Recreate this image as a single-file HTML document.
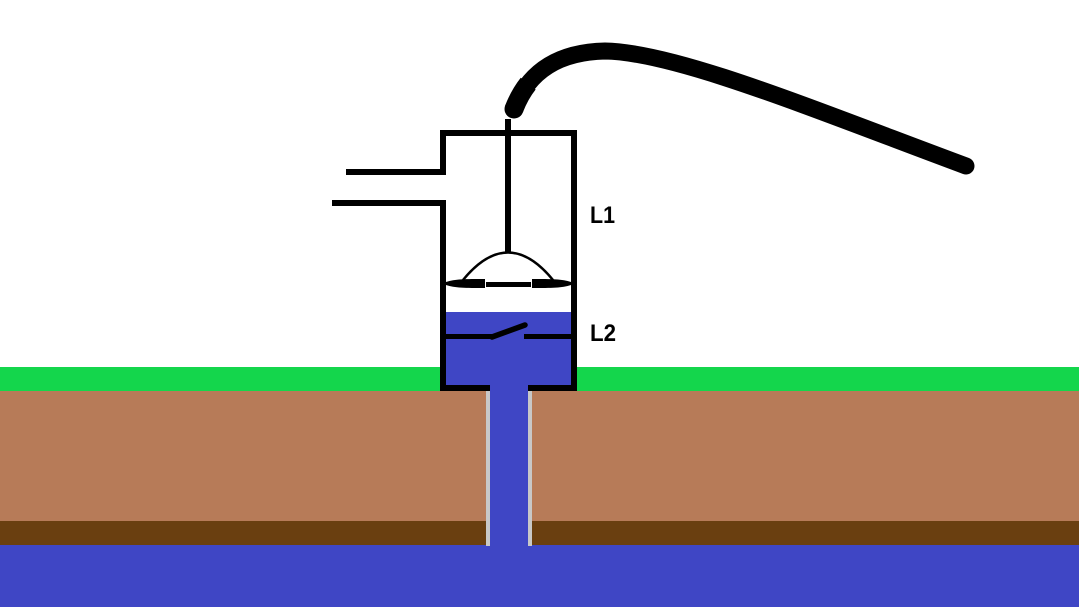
<!DOCTYPE html>
<html><head><meta charset="utf-8"><style>
html,body{margin:0;padding:0;background:#fff;}
svg{display:block;}
</style></head><body>
<svg width="1079" height="607" viewBox="0 0 1079 607" xmlns="http://www.w3.org/2000/svg">
<rect width="1079" height="607" fill="#fff"/>
<!-- ground -->
<rect x="0" y="367" width="1079" height="24" fill="#14d64c"/>
<rect x="0" y="391" width="1079" height="130" fill="#b77b58"/>
<rect x="0" y="521" width="1079" height="24" fill="#6a3f10"/>
<rect x="0" y="545" width="1079" height="62" fill="#3f46c5"/>
<!-- pipe -->
<rect x="486" y="386" width="46" height="160" fill="#c8c8c8"/>
<rect x="490" y="380" width="38" height="170" fill="#3f46c5"/>
<!-- cylinder water -->
<rect x="446" y="312" width="125" height="75" fill="#3f46c5"/>
<rect x="446" y="136" width="125" height="176" fill="#fff"/>
<!-- cylinder walls -->
<g fill="#000">
<rect x="440" y="130" width="137" height="6"/>
<rect x="440" y="130" width="6" height="45"/>
<rect x="440" y="200" width="6" height="191"/>
<rect x="571" y="130" width="6" height="261"/>
<rect x="440" y="385" width="50" height="6"/>
<rect x="528" y="385" width="49" height="6"/>
<rect x="346" y="169" width="100" height="6"/>
<rect x="332" y="200" width="114" height="6"/>
<!-- rod -->
<rect x="505" y="119" width="6" height="134"/>
<!-- piston -->
<path d="M446 282 C455 279 465 279 485 279 L485 288 C465 288 455 288 446 285 Z"/>
<path d="M571 282 C562 279 552 279 532 279 L532 288 C552 288 562 288 571 285 Z"/>
<rect x="486" y="282" width="45" height="5"/>
<!-- valve -->
<rect x="446" y="334" width="46" height="5"/>
<rect x="524" y="334" width="47" height="5"/>
</g>
<path d="M463 280 Q508 225 553 280" fill="none" stroke="#000" stroke-width="2.5"/>
<line x1="492" y1="337" x2="525" y2="325" stroke="#000" stroke-width="5.5" stroke-linecap="round"/>
<!-- hose -->
<path d="M514 109 C529 70 560 52 605 51 C675 52 810 108 966 166" fill="none" stroke="#000" stroke-width="17" stroke-linecap="round" stroke-linejoin="round"/>
<path d="M514 109 C517.75 99.25 522.5 90.8 528.2 83.6" fill="none" stroke="#000" stroke-width="19" stroke-linecap="butt"/>
<circle cx="514" cy="109" r="9.5" fill="#000"/>
<!-- labels -->
<text x="590" y="223" font-family="Liberation Sans, sans-serif" font-weight="bold" font-size="24" textLength="25" lengthAdjust="spacingAndGlyphs" fill="#000">L1</text>
<text x="590" y="341" font-family="Liberation Sans, sans-serif" font-weight="bold" font-size="24" textLength="26" lengthAdjust="spacingAndGlyphs" fill="#000">L2</text>
</svg>
</body></html>
